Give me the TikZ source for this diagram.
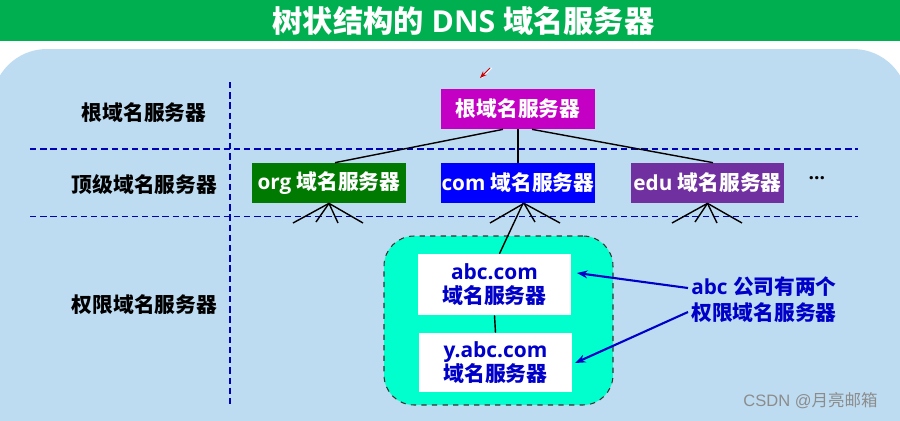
\documentclass[tikz,border=0pt]{standalone}
\usepackage{fontspec}
\setmainfont{Open Sans}
\newfontfamily\cjk{Noto Sans CJK SC}
\definecolor{titlegreen}{RGB}{0,176,80}
\definecolor{panelblue}{RGB}{190,220,241}
\definecolor{rootpurple}{RGB}{196,0,196}
\definecolor{orggreen}{RGB}{0,122,0}
\definecolor{eduviolet}{RGB}{112,48,160}
\definecolor{zoneaqua}{RGB}{0,255,204}
\definecolor{linkblue}{RGB}{0,0,200}
\tikzset{
    srvbox/.style={minimum width=3.08cm, minimum height=0.8cm, inner sep=0pt, text=white, font=\fontsize{11.8pt}{14pt}\selectfont\bfseries},
    authbox/.style={fill=white, minimum width=3.06cm, inner sep=0pt, align=center, text=linkblue, font=\fontsize{11.9pt}{14.5pt}\selectfont\bfseries},
    levellabel/.style={inner sep=0pt, font=\fontsize{11.8pt}{14pt}\selectfont\bfseries},
    levelline/.style={draw=linkblue!90!black, line width=0.75pt, dash pattern=on 3.6pt off 2.2pt},
    treeline/.style={line width=0.8pt},
    notearrow/.style={draw=linkblue, line width=1.2pt, -{Stealth[length=6pt,width=4.5pt]}}
}
\usetikzlibrary{arrows.meta}
\begin{document}
\begin{tikzpicture}[x=0.02cm, y=-0.02cm]
    \path[use as bounding box, clip] (0,0) rectangle (900,420);
    \fill[white] (0,0) rectangle (900,420);

    % draw the panel and the title
    \fill[panelblue, rounded corners=1.1cm] (-8,49) rectangle (908,450);
    \fill[titlegreen] (0,0) rectangle (900,41);
    \node[text=white, inner sep=0pt, font=\fontsize{17.2pt}{19pt}\selectfont\bfseries] (title) at (463.5,21) {{\cjk 树状结构的} DNS {\cjk 域名服务器}};

    % the level separators
    \coordinate (h1a) at (30,149);
    \coordinate (h1b) at (858,149);
    \coordinate (h2a) at (30,216.3);
    \coordinate (h2b) at (858,216.3);
    \coordinate (v1a) at (230,82);
    \coordinate (v1b) at (230,405);
    \draw[levelline] (h1a) -- (h1b);
    \draw[levelline] (h2a) -- (h2b);
    \draw[levelline] (v1a) -- (v1b);

    % the level names
    \node[levellabel] (lroot) at (144,113) {\cjk 根域名服务器};
    \node[levellabel] (ltop) at (144.5,185) {\cjk 顶级域名服务器};
    \node[levellabel] (lauth) at (144.5,305) {\cjk 权限域名服务器};

    % the zone
    \node[draw=black!80, fill=zoneaqua, dashed, line width=0.6pt, rounded corners=0.6cm, minimum width=4.58cm, minimum height=3.38cm, inner sep=0pt] (zone) at (498.5,320.5) {};

    % the servers
    \node[srvbox, fill=rootpurple] (root) at (518,109) {\cjk 根域名服务器};
    \node[srvbox, fill=orggreen] (org) at (329,183) {org {\cjk 域名服务器}};
    \node[srvbox, fill=blue] (com) at (518,183) {com {\cjk 域名服务器}};
    \node[srvbox, fill=eduviolet] (edu) at (707.5,183) {edu {\cjk 域名服务器}};
    \node[font=\fontsize{11pt}{14pt}\selectfont\bfseries, inner sep=0pt] (dots) at (817,178) {…};
    \node[authbox, minimum height=1.22cm] (abc) at (494.5,284.5) {abc.com\\[-1pt]{\cjk 域名服务器}};
    \node[authbox, minimum height=1.18cm] (yabc) at (495.5,362.5) {y.abc.com\\[-1pt]{\cjk 域名服务器}};

    % the tree
    \draw[treeline] ([xshift=-0.3cm]root.south) -- ([xshift=0.12cm]org.north);
    \draw[treeline] (root.south) -- (com.north);
    \draw[treeline] ([xshift=0.28cm]root.south) -- ([xshift=0.11cm]edu.north);
    \draw[treeline] ([xshift=0.1cm]com.south) -- ([xshift=0.1cm]abc.north);
    \draw[treeline] (abc.south) -- (yabc.north);

    % the stubs below the servers
    \coordinate (o1) at (293,223);
    \coordinate (o2) at (316,222);
    \coordinate (o3) at (338,223);
    \coordinate (o4) at (363,223);
    \coordinate (c1) at (490,223);
    \coordinate (c3) at (535,222);
    \coordinate (c4) at (560,223);
    \coordinate (e1) at (672,223);
    \coordinate (e2) at (695,222);
    \coordinate (e3) at (717,223);
    \coordinate (e4) at (742,223);
    \foreach \stub in {o1,o2,o3,o4} \draw[treeline] (org.south) -- (\stub);
    \foreach \stub in {c1,c3,c4} \draw[treeline] ([xshift=0.12cm]com.south) -- (\stub);
    \foreach \stub in {e1,e2,e3,e4} \draw[treeline] (edu.south) -- (\stub);

    % the note and its arrows
    \node[inner sep=0pt, align=center, text=linkblue, font=\fontsize{11.8pt}{14.7pt}\selectfont\bfseries] (note) at (764,300) {abc {\cjk 公司有两个}\\{\cjk 权限域名服务器}};
    \coordinate (na) at (688,288);
    \coordinate (nb) at (688,312);
    \coordinate (ta) at (577,273);
    \coordinate (tb) at (575,363);
    \draw[notearrow] (na) -- (ta);
    \draw[notearrow] (nb) -- (tb);

    % the pointer and the mark
    \coordinate (pa) at (490,68);
    \coordinate (pb) at (480,78);
    \draw[white, line width=0.5pt] ([xshift=1pt]pa) -- ([xshift=1pt]pb);
    \draw[red!80!black, line width=0.5pt, -{Stealth[length=4pt,width=3pt]}] (pa) -- (pb);
    \node[text=black!45, inner sep=0pt, font=\fontsize{9.4pt}{11pt}\selectfont] (mark) at (810.5,401) {\fontspec{Liberation Sans}CSDN @{\cjk 月亮邮箱}};
\end{tikzpicture}
\end{document}
